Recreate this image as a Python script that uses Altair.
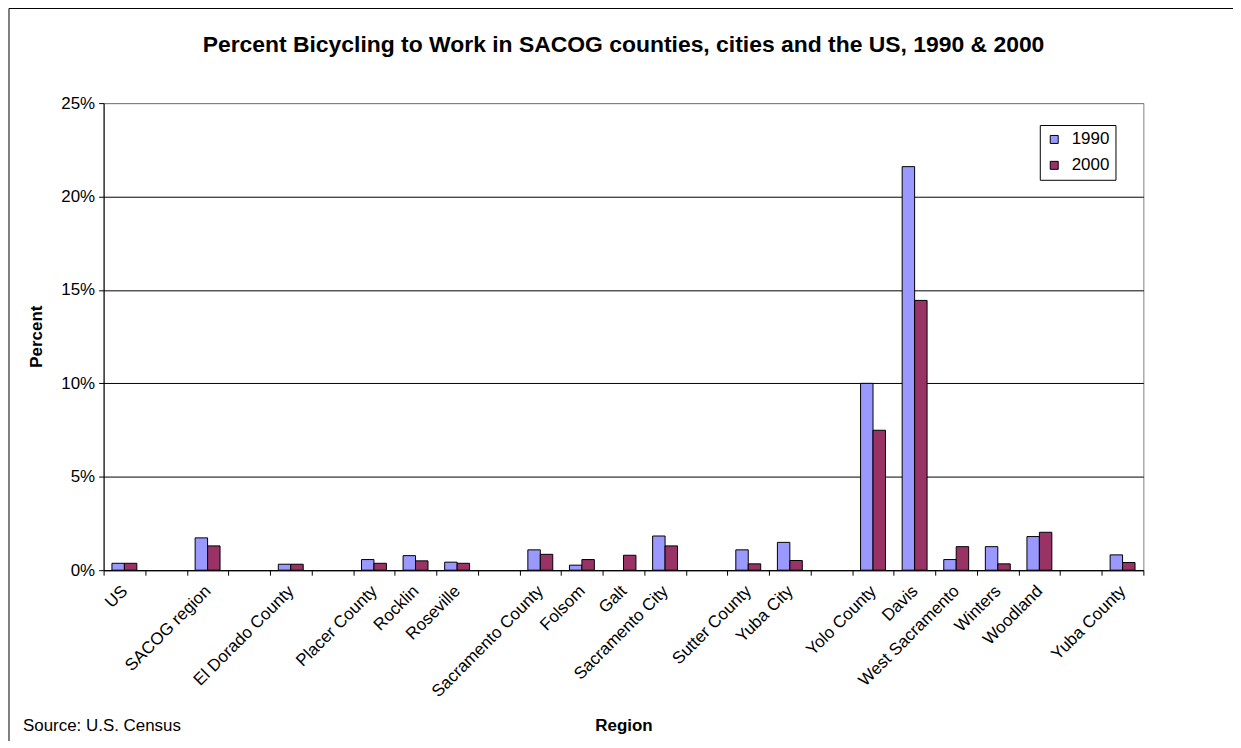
import altair as alt
import pandas as pd

# Category slots along the x axis (blank slots are the gaps in the original chart)
categories = ["US", " ", "SACOG region", "  ", "El Dorado County", "   ",
              "Placer County", "Rocklin", "Roseville", "    ",
              "Sacramento County", "Folsom", "Galt", "Sacramento City", "     ",
              "Sutter County", "Yuba City", "      ",
              "Yolo County", "Davis", "West Sacramento", "Winters", "Woodland", "       ",
              "Yuba County"]

regions = ["US", "SACOG region", "El Dorado County", "Placer County", "Rocklin",
           "Roseville", "Sacramento County", "Folsom", "Galt", "Sacramento City",
           "Sutter County", "Yuba City", "Yolo County", "Davis", "West Sacramento",
           "Winters", "Woodland", "Yuba County"]

pct_1990 = [0.37, 1.73, 0.32, 0.57, 0.78, 0.43, 1.09, 0.27, None, 1.83,
            1.09, 1.49, 10.0, 21.6, 0.57, 1.26, 1.80, 0.82]
pct_2000 = [0.37, 1.30, 0.32, 0.37, 0.50, 0.37, 0.85, 0.57, 0.80, 1.30,
            0.34, 0.52, 7.49, 14.44, 1.26, 0.34, 2.03, 0.41]

years = ["1990", "2000"]
colors = ["#9999FF", "#993366"]
y_ticks = [0, 5, 10, 15, 20, 25]

title_text = "Percent Bicycling to Work in SACOG counties, cities and the US, 1990 & 2000"
source_text = "Source: U.S. Census"

rows = []
for r, a, b in zip(regions, pct_1990, pct_2000):
    if a is not None:
        rows.append({"region": r, "year": "1990", "pct": a})
    if b is not None:
        rows.append({"region": r, "year": "2000", "pct": b})
df = pd.DataFrame(rows)

FONT = "Liberation Sans"

bars = alt.Chart(df).mark_bar(stroke="black", strokeWidth=1).encode(
    x=alt.X("region:N", sort=categories,
            scale=alt.Scale(domain=categories, paddingInner=0, paddingOuter=0),
            axis=alt.Axis(title="Region", titleFontSize=17, titleFontWeight="bold",
                          titleX=522, titleY=156, titleBaseline="middle", titleColor="black",
                          labelAngle=-45, labelAlign="right", labelBaseline="middle",
                          labelFontSize=17, labelPadding=13, labelColor="black",
                          labelOverlap=False, labelBound=False,
                          tickBand="extent", tickSize=5, tickColor="black",
                          domainColor="black", grid=False)),
    xOffset=alt.XOffset("year:N",
                        scale=alt.Scale(domain=years, paddingInner=0, paddingOuter=0.67)),
    y=alt.Y("pct:Q", scale=alt.Scale(domain=[0, 25], nice=False),
            axis=alt.Axis(values=y_ticks, labelExpr="datum.value + '%'",
                          title="Percent", titleFontSize=17, titleFontWeight="bold",
                          titleX=-67, titleY=234, titleAngle=270, titleAlign="center",
                          titleBaseline="middle", titleColor="black",
                          labelFontSize=17, labelPadding=4, labelColor="black",
                          tickSize=5, tickColor="black", domainColor="black",
                          grid=True,
                          gridColor=alt.condition("datum.value == 25",
                                                  alt.value("#808080"),
                                                  alt.value("black")))),
    color=alt.Color("year:N", scale=alt.Scale(domain=years, range=colors),
                    legend=alt.Legend(title=None, orient="none", legendX=940, legendY=22,
                                      strokeColor="black", fillColor="white", padding=6,
                                      symbolType="square", symbolSize=64,
                                      symbolStrokeColor="black", symbolStrokeWidth=1,
                                      labelFontSize=17, labelOffset=9, rowPadding=8,
                                      labelColor="black")),
)

frame_df = pd.DataFrame({"k": [0]})
border = alt.Chart(frame_df).mark_rect(fillOpacity=0, stroke="black", strokeWidth=1).encode(
    x=alt.value(-95), y=alt.value(-95), x2=alt.value(1200), y2=alt.value(700)
)

source = alt.Chart(frame_df).mark_text(align="left", baseline="middle", fontSize=17,
                                       font=FONT, color="black").encode(
    x=alt.value(-81), y=alt.value(625), text=alt.value(source_text)
)

chart = alt.layer(bars, border, source).properties(
    width=1044, height=469,
    autosize=alt.AutoSizeParams(type="none"),
    padding={"left": 96, "top": 94, "right": 90, "bottom": 170},
    title=alt.TitleParams(title_text, fontSize=23, fontWeight="bold", anchor="middle",
                          frame="group", offset=0, dy=67, baseline="alphabetic",
                          color="black", font=FONT),
).configure(font=FONT, background="white").configure_view(stroke="#808080", strokeWidth=1)

chart.save("out.html", embed_options={"renderer": "svg", "actions": False})
